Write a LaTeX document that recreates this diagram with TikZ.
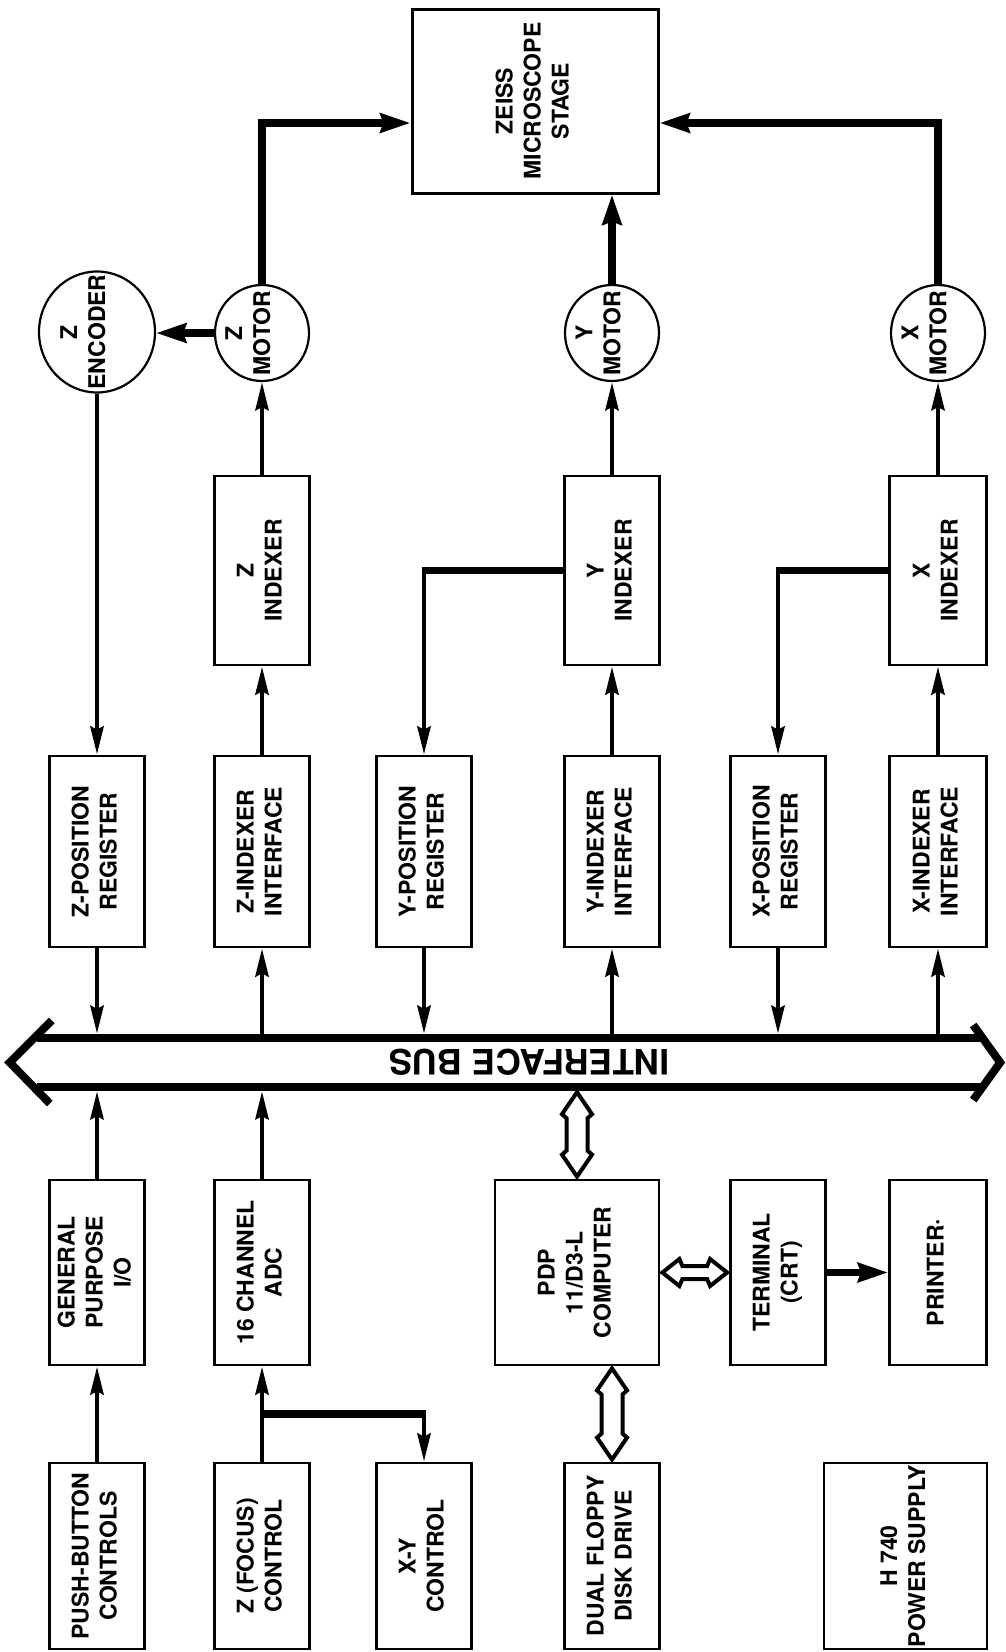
\documentclass[tikz,border=0pt]{standalone}
\usepackage{fontspec}
\newfontfamily\hv{TeX Gyre Heros}
\usetikzlibrary{arrows.meta,calc,shapes.geometric}
\newcommand\vt[1]{\rotatebox{90}{\begin{tabular}{@{}c@{}}#1\end{tabular}}}
\newcommand\hollowv[2]{%
  \draw[hollow] let \p1=#1, \p2=#2 in
   (\x1,\y1) -- (\x1+15pt,\y1-22pt) -- (\x1+10.5pt,\y1-26pt) -- (\x1+10.5pt,\y2+26pt) -- (\x1+15pt,\y2+22pt) -- (\x1,\y2)
   -- (\x1-15pt,\y2+22pt) -- (\x1-10.5pt,\y2+26pt) -- (\x1-10.5pt,\y1-26pt) -- (\x1-15pt,\y1-22pt) -- cycle;}
\newcommand\hollowh[2]{%
  \draw[hollow] let \p1=#1, \p2=#2 in
   (\x1,\y1) -- (\x1+17pt,\y1+13.5pt) -- (\x1+20pt,\y1+6.5pt) -- (\x2-20pt,\y1+6.5pt) -- (\x2-17pt,\y1+13.5pt) -- (\x2,\y1)
   -- (\x2-17pt,\y1-13.5pt) -- (\x2-20pt,\y1-6.5pt) -- (\x1+20pt,\y1-6.5pt) -- (\x1+17pt,\y1-13.5pt) -- cycle;}
\begin{document}
\begin{tikzpicture}[x=1pt,y=-1pt,
  box/.style={draw, line width=2.8pt, inner sep=0pt, font=\hv\bfseries\fontsize{23}{28}\selectfont},
  circ/.style={draw, ellipse, line width=2.2pt, inner sep=0pt},
  lbl/.style={rotate=90, align=center, inner sep=0pt, font=\hv\bfseries\fontsize{23}{28}\selectfont},
  conn/.style={line width=4.5pt, -{Stealth[length=28pt,width=13pt,inset=3pt]}},
  tconn/.style={line width=7.5pt, -{Stealth[length=30pt,width=19pt,inset=3pt]}},
  tline/.style={line width=7.5pt},
  busline/.style={line width=8pt},
  hollow/.style={draw, line width=4pt, fill=white, line join=miter},
]
\useasboundingbox (0,0) rectangle (1005,1652);
\fill[white] (0,0) rectangle (1005,1652);

% stage
\node[box, line width=3pt, minimum width=246pt, minimum height=184pt] (zeiss) at (535,101) {\vt{ZEISS\\MICROSCOPE\\STAGE}};

% motors and encoder
\node[circ, minimum width=116pt, minimum height=121pt] (zenc) at (97,332) {};
\node[lbl] (zenct) at ([xshift=-14pt]zenc.center) {Z\\ENCODER};
\node[circ, minimum width=94pt, minimum height=96pt] (zmot) at (262,333) {};
\node[lbl] (zmott) at ([xshift=-14pt]zmot.center) {Z\\MOTOR};
\node[circ, minimum width=94pt, minimum height=96pt] (ymot) at (612,333) {};
\node[lbl] (ymott) at ([xshift=-14pt]ymot.center) {Y\\MOTOR};
\node[circ, minimum width=94pt, minimum height=96pt] (xmot) at (938,333) {};
\node[lbl] (xmott) at ([xshift=-14pt]xmot.center) {X\\MOTOR};

% indexers
\node[box, minimum width=95pt, minimum height=189pt] (zind) at (262,570.5) {\vt{Z\\INDEXER}};
\node[box, minimum width=95pt, minimum height=189pt] (yind) at (612,570.5) {\vt{Y\\INDEXER}};
\node[box, minimum width=97pt, minimum height=189pt] (xind) at (938,570.5) {\vt{X\\INDEXER}};

% registers / interfaces
\node[box, minimum width=95pt, minimum height=191pt] (zpos) at (97,851.5) {\vt{Z-POSITION\\REGISTER}};
\node[box, minimum width=95pt, minimum height=191pt] (zif) at (262,851.5) {\vt{Z-INDEXER\\INTERFACE}};
\node[box, minimum width=95pt, minimum height=191pt] (ypos) at (424,851.5) {\vt{Y-POSITION\\REGISTER}};
\node[box, minimum width=95pt, minimum height=191pt] (yif) at (612,851.5) {\vt{Y-INDEXER\\INTERFACE}};
\node[box, minimum width=95pt, minimum height=191pt] (xpos) at (778,851.5) {\vt{X-POSITION\\REGISTER}};
\node[box, minimum width=97pt, minimum height=191pt] (xif) at (938,851.5) {\vt{X-INDEXER\\INTERFACE}};

% bus
\node[minimum width=948pt, minimum height=49pt, inner sep=0pt] (bus) at (511,1062.5) {};
\draw[busline] (bus.north west) -- (bus.north east);
\draw[busline] (bus.south west) -- (bus.south east);
\draw[busline, line join=miter] ($(bus.west)+(15,-42)$) -- ($(bus.west)+(-27,0)$) -- ($(bus.west)+(13,41)$);
\draw[busline, line join=miter] ($(bus.east)+(-12,-37.5)$) -- ($(bus.east)+(15,0)$) -- ($(bus.east)+(-12,37.5)$);
\node[rotate=180, inner sep=0pt, font=\hv\bfseries\fontsize{35}{40}\selectfont] (bustxt) at (529,1062) {INTERFACE BUS};

% lower row
\node[box, minimum width=95pt, minimum height=185pt] (gpio) at (97,1272.5) {\vt{GENERAL\\PURPOSE\\I/O}};
\node[box, minimum width=95pt, minimum height=185pt] (adc) at (262,1272.5) {\vt{16 CHANNEL\\ADC}};
\node[box, minimum width=164pt, minimum height=185pt] (pdp) at (577,1272.5) {\vt{PDP\\11/D3-L\\COMPUTER}};
\node[box, minimum width=95pt, minimum height=185pt] (term) at (778,1272.5) {\vt{TERMINAL\\(CRT)}};
\node[box, minimum width=97pt, minimum height=185pt] (prn) at (938,1272.5) {\vt{PRINTER·}};

% bottom row
\node[box, minimum width=95pt, minimum height=186pt] (push) at (97,1556) {\vt{PUSH-BUTTON\\CONTROLS}};
\node[box, minimum width=95pt, minimum height=186pt] (zfoc) at (262,1556) {\vt{Z (FOCUS)\\CONTROL}};
\node[box, minimum width=95pt, minimum height=186pt] (xyc) at (424,1556) {\vt{X-Y\\CONTROL}};
\node[box, minimum width=95pt, minimum height=186pt] (flop) at (612,1556) {\vt{DUAL FLOPPY\\DISK DRIVE}};
\node[box, minimum width=163pt, minimum height=186pt] (pwr) at (905.5,1556) {\vt{H 740\\POWER SUPPLY}};

% motors to stage
\draw[tconn] (zmot.north) |- ([yshift=-22pt]zeiss.west);
\draw[tconn] (xmot.north) |- ([yshift=-22pt]zeiss.east);
\draw[tconn] (ymot.north) -- (ymot.north |- zeiss.south);
\draw[tconn] (zmot.west) -- (zmot.west -| zenc.east);

% encoder, indexers
\draw[conn] (zenc.south) -- (zpos.north);
\draw[conn] (zind.north) -- (zmot.south);
\draw[conn] (yind.north) -- (ymot.south);
\draw[conn] (xind.north) -- (xmot.south);
\draw[conn] (zif.north) -- (zind.south);
\draw[conn] (yif.north) -- (yind.south);
\draw[conn] (xif.north) -- (xind.south);

\coordinate (ybend) at (ypos.north |- yind.west);
\draw[tline] (yind.west) -- ([xshift=-2.25pt]ybend);
\draw[conn] ([yshift=3.75pt]ybend) -- (ypos.north);
\coordinate (xbend) at (xpos.north |- xind.west);
\draw[tline] (xind.west) -- ([xshift=-2.25pt]xbend);
\draw[conn] ([yshift=3.75pt]xbend) -- (xpos.north);

% register row to bus
\draw[conn] (zpos.south) -- ($(zpos.south |- bus.north)+(0,-4)$);
\draw[conn] (ypos.south) -- ($(ypos.south |- bus.north)+(0,-4)$);
\draw[conn] (xpos.south) -- ($(xpos.south |- bus.north)+(0,-4)$);
\draw[conn] (zif.south |- bus.north) -- (zif.south);
\draw[conn] (yif.south |- bus.north) -- (yif.south);
\draw[conn] (xif.south |- bus.north) -- (xif.south);

% lower row to bus
\draw[conn] (gpio.north) -- ($(gpio.north |- bus.south)+(0,4)$);
\draw[conn] (adc.north) -- ($(adc.north |- bus.south)+(0,4)$);
\hollowv{($(pdp.north |- bus.south)+(0,5)$)}{($(pdp.north)+(0,-2)$)}
\hollowh{($(pdp.east)+(2,0)$)}{($(term.west)+(-2,0)$)}
\draw[tconn] (term.east) -- (prn.west);
\hollowv{($(flop.north |- pdp.south)+(0,2)$)}{($(flop.north)+(0,-2)$)}

% bottom row
\draw[conn] (push.north) -- (gpio.south);
\draw[conn] (zfoc.north) -- (adc.south);
\coordinate (zbr) at ($(zfoc.north)!0.5!(adc.south)$);
\coordinate (xybend) at (xyc.north |- zbr);
\draw[tline] (zbr) -- ([xshift=2.25pt]xybend);
\draw[conn] ([yshift=3.75pt]xybend) -- (xyc.north);
\end{tikzpicture}
\end{document}
